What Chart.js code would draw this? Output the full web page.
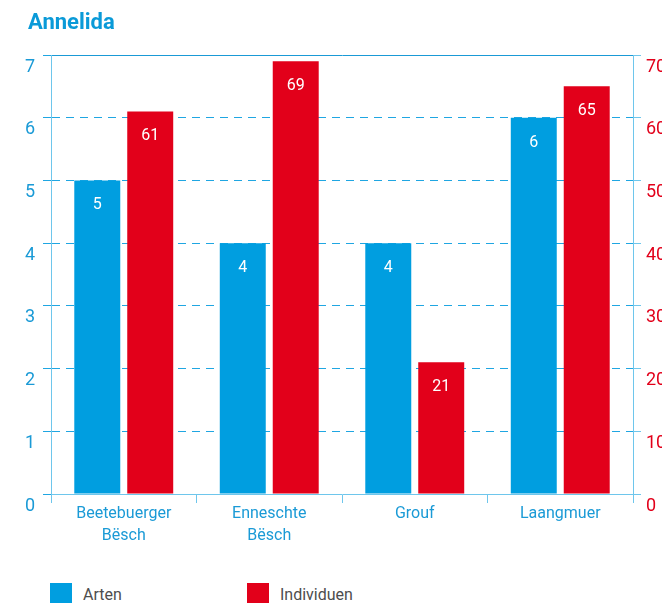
<!DOCTYPE html>
<html>
<head>
<meta charset="utf-8">
<script src="https://cdn.jsdelivr.net/npm/chart.js@4/dist/chart.umd.min.js"></script>
<style>
  html, body { margin: 0; padding: 0; background: #fff; overflow: hidden; }
  #wrap { position: relative; width: 662px; height: 603px; overflow: hidden; }
  #title { position: absolute; left: 28px; top: 9px; line-height: 26px;
           font-family: 'Roboto', sans-serif; font-size: 22px; font-weight: bold; color: #0a9ad8; }
  #legend { position: absolute; left: 50px; top: 583px; display: flex;
            font-family: 'Roboto', sans-serif; font-size: 16px; color: #4d4d4d; }
  .item { display: flex; align-items: center; width: 197px; }
  .box { width: 22px; height: 22px; margin-right: 11px; }
</style>
</head>
<body>
<div id="wrap">
  <canvas id="annelidaChart" width="700" height="560"></canvas>
  <div id="title">Annelida</div>
  <div id="legend"></div>
</div>
<script>
const categories = [['Beetebuerger', 'Bësch'], ['Enneschte', 'Bësch'], 'Grouf', 'Laangmuer'];
const arten = [5, 4, 4, 6];
const individuen = [61, 69, 21, 65];
const seriesNames = ['Arten', 'Individuen'];
const seriesColors = ['#009ee0', '#e2001a'];

const fontFamily = "'Roboto', sans-serif";
const lightBlue = '#6ec6ec';
const gridBlue = '#1fa6e2';
const textBlue = '#1a9ad6';

// white value labels inside the bar tops
const barValues = {
    id: 'barValues',
    afterDatasetsDraw(chart){
        const ctx = chart.ctx;
        ctx.save();
        ctx.fillStyle = '#fff';
        ctx.font = '16px ' + fontFamily;
        ctx.textAlign = 'center';
        ctx.textBaseline = 'middle';
        chart.data.datasets.forEach((ds, i) => {
            chart.getDatasetMeta(i).data.forEach((bar, j) => {
                ctx.fillText(ds.data[j], bar.x, bar.y + 25);
            });
        });
        ctx.restore();
    }
};

const ctx = document.getElementById('annelidaChart');

new Chart(ctx, {
    type: 'bar',
    data: {
        labels: categories,
        datasets: [{
            label: seriesNames[0],
            data: arten,
            backgroundColor: seriesColors[0],
            yAxisID: 'y'
        }, {
            label: seriesNames[1],
            data: individuen,
            backgroundColor: seriesColors[1],
            yAxisID: 'y2'
        }]
    },
    options: {
        responsive: false,
        animation: false,
        categoryPercentage: 0.728,
        barPercentage: 0.868,
        layout: { padding: { top: 55 } },
        plugins: {
            legend: { display: false },
            tooltip: { enabled: false }
        },
        scales: {
            x: {
                grid: { offset: true, drawOnChartArea: false, tickLength: 9, tickColor: lightBlue },
                border: { color: lightBlue },
                ticks: { color: textBlue, padding: 0, font: { family: fontFamily, size: 16, lineHeight: 1.38 } },
                afterFit(scale){ scale.height = 66; }
            },
            xTop: {
                position: 'top',
                grid: { display: false, drawTicks: false },
                border: { color: '#1a9ad6' },
                ticks: { display: false }
            },
            y: {
                position: 'left',
                min: 0, max: 7,
                ticks: { stepSize: 1, color: textBlue, padding: 8, labelOffset: 12,
                         font: { family: fontFamily, size: 18 } },
                grid: {
                    color: c => c.tick && c.tick.value === 7 ? 'transparent' : gridBlue,
                    tickColor: gridBlue, tickLength: 8
                },
                border: { color: lightBlue, dash: [8, 6] },
                afterFit(scale){ scale.width = 51; }
            },
            y2: {
                position: 'right',
                min: 0, max: 70,
                ticks: { stepSize: 10, color: '#e2001a', padding: 5, labelOffset: 12,
                         font: { family: fontFamily, size: 18 } },
                grid: { drawOnChartArea: false, tickColor: lightBlue, tickLength: 8 },
                border: { color: lightBlue },
                afterFit(scale){ scale.width = 67; }
            }
        }
    },
    plugins: [barValues]
});

// legend below the chart
const legend = document.getElementById('legend');
seriesNames.forEach((name, i) => {
    const item = document.createElement('div');
    item.className = 'item';
    item.innerHTML = '<div class="box" style="background:' + seriesColors[i] + '"></div>' + name;
    legend.appendChild(item);
});
</script>
</body>
</html>
